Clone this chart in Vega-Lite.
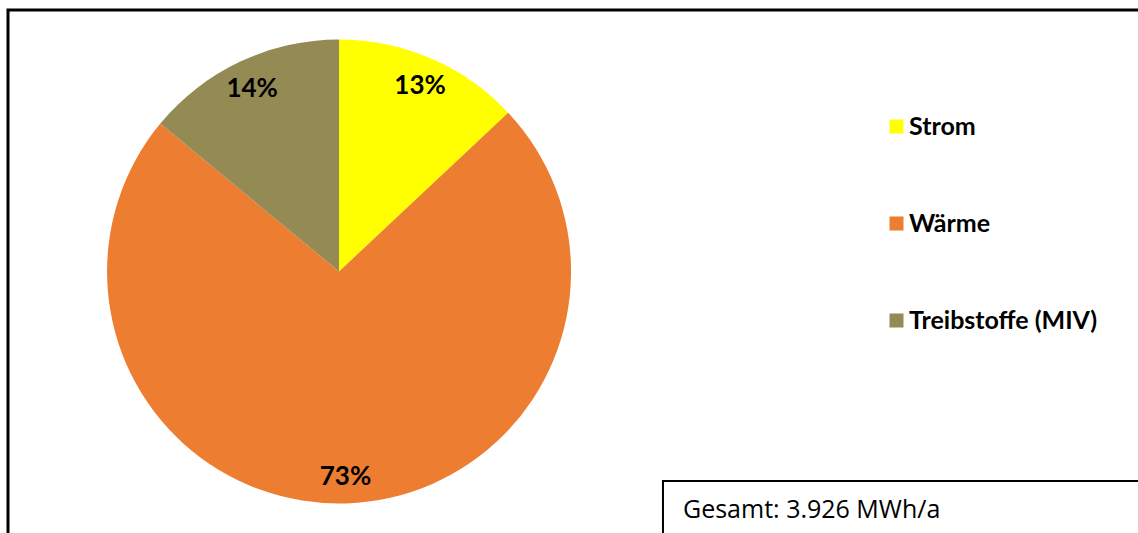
{
  "$schema": "https://vega.github.io/schema/vega-lite/v6.json",
  "width": 1140,
  "height": 530,
  "padding": {"left": 8, "top": 10, "right": 0, "bottom": 0},
  "autosize": {"type": "none"},
  "background": "white",
  "config": {"view": {"stroke": "black", "strokeWidth": 3}},
  "datasets": {
    "anteile": [
      {"Nr": 1, "Energieträger": "Strom", "Anteil": 0.13},
      {"Nr": 2, "Energieträger": "Wärme", "Anteil": 0.73},
      {"Nr": 3, "Energieträger": "Treibstoffe (MIV)", "Anteil": 0.14}
    ],
    "gesamt": [{"Hinweis": "Gesamt: 3.926 MWh/a"}]
  },
  "layer": [
    {
      "data": {"name": "anteile"},
      "mark": {"type": "arc", "radius": 232},
      "encoding": {
        "x": {"datum": "Endenergie", "type": "nominal", "scale": {"type": "point", "align": 0.2904}, "axis": null},
        "y": {"datum": "Endenergie", "type": "nominal", "scale": {"type": "point", "align": 0.4934}, "axis": null},
        "theta": {"field": "Anteil", "type": "quantitative", "stack": true},
        "order": {"field": "Nr", "type": "quantitative"},
        "color": {
          "field": "Energieträger",
          "type": "nominal",
          "scale": {
            "domain": ["Strom", "Wärme", "Treibstoffe (MIV)"],
            "range": ["#FFFF00", "#ED7D31", "#948A54"]
          },
          "legend": {
            "title": null,
            "orient": "none",
            "legendX": 876,
            "legendY": 104,
            "padding": 0,
            "symbolType": "square",
            "symbolSize": 196,
            "symbolStrokeWidth": 0,
            "symbolOpacity": 1,
            "labelFont": "Lato",
            "labelFontWeight": "bold",
            "labelFontSize": 25,
            "labelColor": "black",
            "labelOffset": 0,
            "labelLimit": 400,
            "rowPadding": 71
          }
        }
      }
    },
    {
      "data": {"name": "anteile"},
      "mark": {"type": "text", "radius": 204, "dy": 2, "font": "Lato", "fontWeight": "bold", "fontSize": 26, "color": "black", "baseline": "middle", "align": "center"},
      "encoding": {
        "x": {"datum": "Endenergie", "type": "nominal", "scale": {"type": "point", "align": 0.2904}, "axis": null},
        "y": {"datum": "Endenergie", "type": "nominal", "scale": {"type": "point", "align": 0.4934}, "axis": null},
        "theta": {"field": "Anteil", "type": "quantitative", "stack": true},
        "order": {"field": "Nr", "type": "quantitative"},
        "text": {"field": "Anteil", "type": "quantitative", "format": ".0%"}
      }
    },
    {
      "data": {"name": "gesamt"},
      "mark": {"type": "rect", "width": 600, "height": 100, "fill": "white", "stroke": "black", "strokeWidth": 2},
      "encoding": {
        "x": {"datum": "Gesamt", "type": "nominal", "scale": {"type": "point", "align": 0.8377}, "axis": null},
        "y": {"datum": "Gesamt", "type": "nominal", "scale": {"type": "point", "align": 0.983}, "axis": null}
      }
    },
    {
      "data": {"name": "gesamt"},
      "mark": {"type": "text", "font": "Open Sans", "fontSize": 25, "color": "black", "align": "left", "baseline": "alphabetic"},
      "encoding": {
        "x": {"datum": "Gesamt", "type": "nominal", "scale": {"type": "point", "align": 0.5921}, "axis": null},
        "y": {"datum": "Gesamt", "type": "nominal", "scale": {"type": "point", "align": 0.9585}, "axis": null},
        "text": {"field": "Hinweis", "type": "nominal"}
      }
    }
  ],
  "resolve": {"scale": {"x": "independent", "y": "independent"}}
}
